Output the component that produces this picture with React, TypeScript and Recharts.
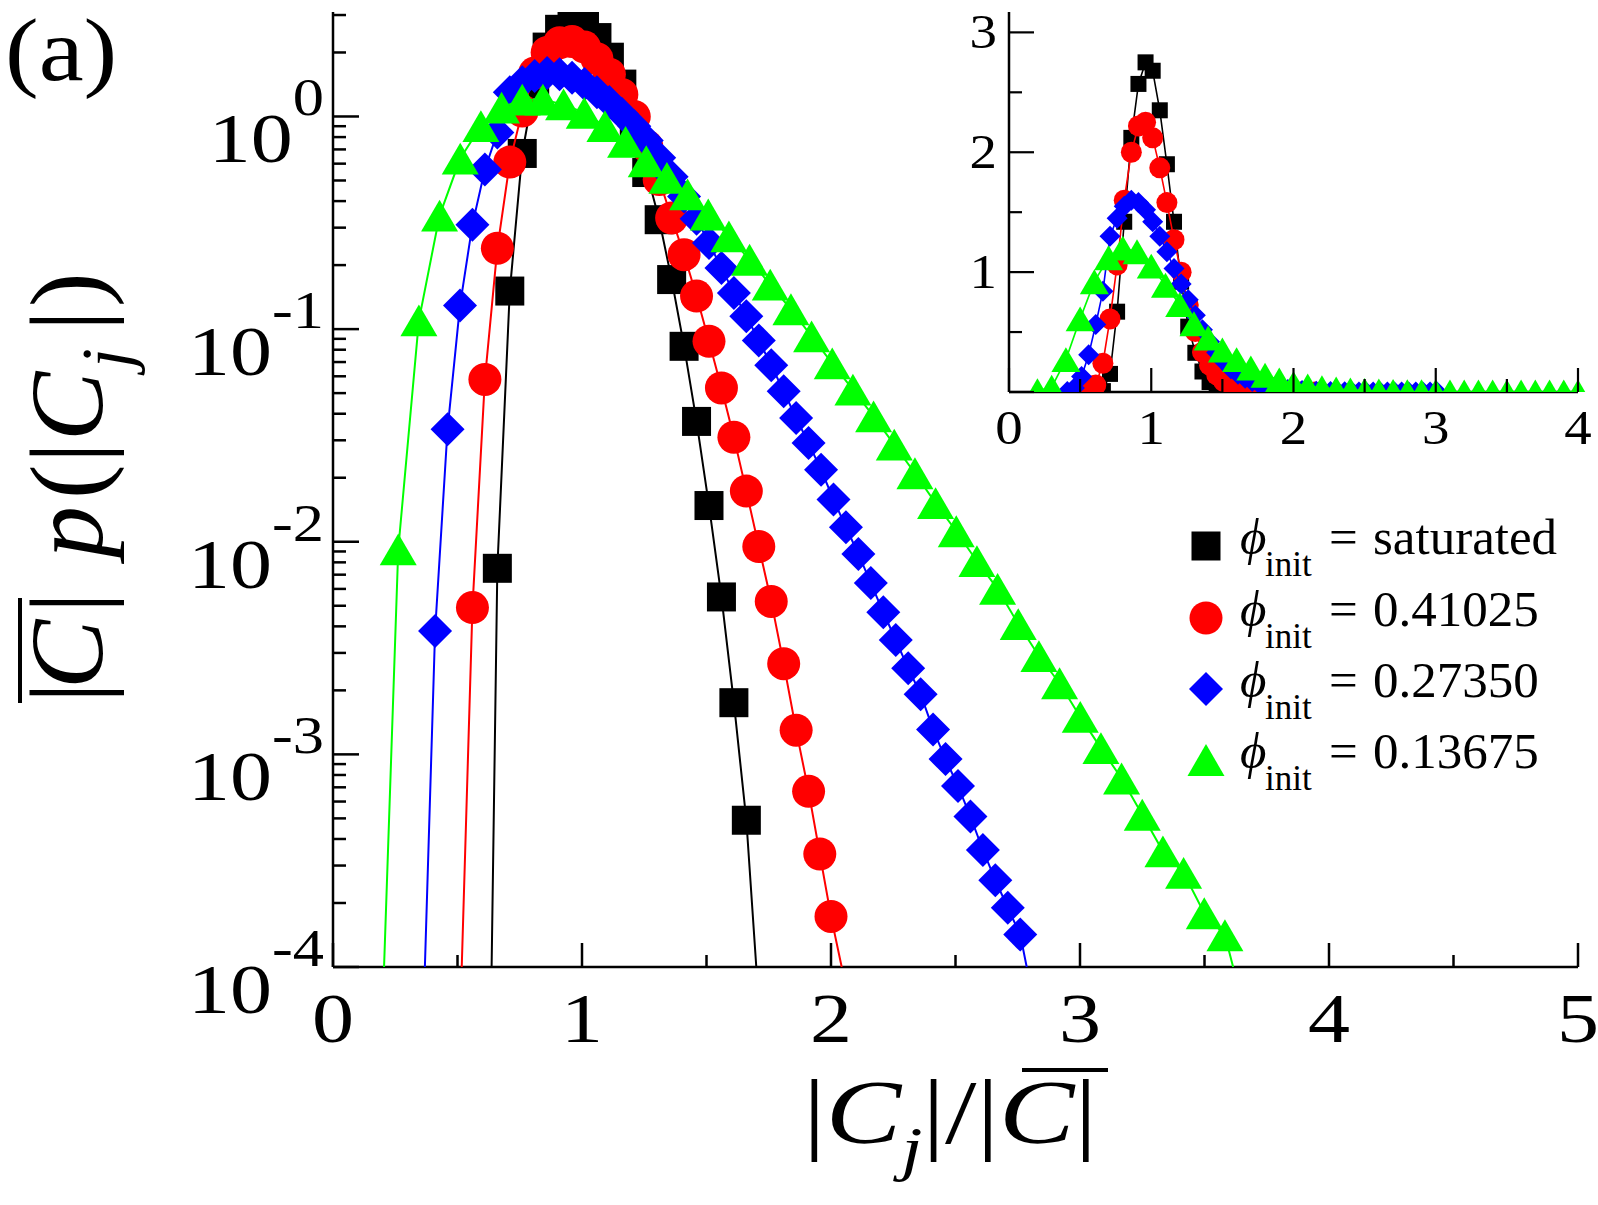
import React from 'react';
import { ComposedChart, Scatter, XAxis, YAxis } from 'recharts';

const FONT = '"Liberation Serif", "Times New Roman", Times, serif';

// x = |C_j| / mean|C| , y = mean|C| p(|C_j|)
const blackX = [0.66, 0.71, 0.76, 0.81, 0.86, 0.91, 0.96, 1.01, 1.06, 1.11, 1.16, 1.21, 1.26, 1.31, 1.36, 1.41, 1.46, 1.51, 1.56, 1.61, 1.66];
const blackY = [0.0075, 0.151, 0.67, 1.42, 2.12, 2.57, 2.75, 2.68, 2.35, 1.9, 1.42, 0.92, 0.545, 0.327, 0.171, 0.083, 0.0368, 0.0148, 0.0055, 0.00175, 0.00049];

const redX = [0.56, 0.61, 0.66, 0.71, 0.76, 0.81, 0.86, 0.91, 0.96, 1.01, 1.06, 1.11, 1.16, 1.21, 1.26, 1.31, 1.36, 1.41, 1.46, 1.51, 1.56, 1.61, 1.66, 1.71, 1.76, 1.81, 1.86, 1.91, 1.955, 2.0];
const redY = [0.0049, 0.058, 0.24, 0.61, 1.06, 1.6, 2.0, 2.22, 2.25, 2.12, 1.87, 1.58, 1.27, 1.0, 0.725, 0.505, 0.333, 0.224, 0.143, 0.0877, 0.0529, 0.031, 0.0173, 0.0095, 0.00524, 0.00267, 0.0013, 0.00067, 0.00034, 0.000173];

const blueX = [0.41, 0.46, 0.51, 0.56, 0.61, 0.66, 0.71, 0.76, 0.81, 0.86, 0.91, 0.96, 1.01, 1.06, 1.11, 1.16, 1.21, 1.26, 1.31, 1.36, 1.41, 1.46, 1.51, 1.56, 1.61, 1.66, 1.71, 1.76, 1.81, 1.86, 1.91, 1.96, 2.01, 2.06, 2.11, 2.16, 2.21, 2.26, 2.31, 2.36, 2.41, 2.46, 2.51, 2.56, 2.61, 2.66, 2.71, 2.76];
const blueY = [0.0038, 0.0338, 0.129, 0.31, 0.563, 0.84, 1.3, 1.45, 1.55, 1.6, 1.58, 1.52, 1.42, 1.3, 1.17, 1.03, 0.9, 0.77, 0.64, 0.52, 0.42, 0.33, 0.254, 0.194, 0.148, 0.115, 0.0885, 0.0676, 0.051, 0.0382, 0.0291, 0.0218, 0.0158, 0.0117, 0.00876, 0.00639, 0.00466, 0.00345, 0.00254, 0.00192, 0.00131, 0.00095, 0.00071, 0.00051, 0.000355, 0.000256, 0.00019, 0.000142];

const greenX = [0.262, 0.345, 0.428, 0.511, 0.594, 0.677, 0.76, 0.843, 0.926, 1.009, 1.092, 1.175, 1.258, 1.341, 1.424, 1.507, 1.59, 1.673, 1.756, 1.839, 1.922, 2.005, 2.088, 2.171, 2.254, 2.337, 2.42, 2.503, 2.586, 2.669, 2.752, 2.835, 2.918, 3.001, 3.084, 3.167, 3.25, 3.333, 3.416, 3.499, 3.582];
const greenY = [0.0092, 0.11, 0.342, 0.634, 0.9, 1.1, 1.2, 1.2, 1.14, 1.04, 0.9, 0.76, 0.616, 0.514, 0.43, 0.346, 0.273, 0.212, 0.162, 0.124, 0.0925, 0.069, 0.0519, 0.0389, 0.0286, 0.021, 0.0152, 0.0112, 0.0081, 0.006, 0.0041, 0.0029, 0.00216, 0.0015, 0.00107, 0.00077, 0.00052, 0.00035, 0.000277, 0.000179, 0.000141];

// where each fitted line leaves the bottom of the log panel (left, right)
const blackEdges = [0.637, 1.7];
const redEdges = [0.517, 2.043];
const blueEdges = [0.369, 2.786];
const greenEdges = [0.205, 3.615];

// bins that sit at ~0 in the linear inset
const blackZeroX: number[] = [];
const redZeroX = [0.51, 2.05, 2.1, 2.15];
const blueZeroX = [2.81, 2.86, 2.91, 2.96, 3.01];

// the inset's green set is binned more coarsely
const greenInsetX = [0.2, 0.3, 0.4, 0.5, 0.6, 0.7, 0.8, 0.9, 1.0, 1.1, 1.2, 1.3, 1.4, 1.5, 1.6, 1.7, 1.8, 1.9, 2.0, 2.1, 2.2, 2.3, 2.4, 2.5, 2.6, 2.7, 2.8, 2.9, 3.0, 3.1, 3.2, 3.3, 3.4, 3.5, 3.6, 3.7, 3.8, 3.9, 4.0];
const greenInsetY = [0.01, 0.04, 0.27, 0.61, 0.92, 1.12, 1.2, 1.17, 1.05, 0.89, 0.73, 0.57, 0.45, 0.35, 0.27, 0.2, 0.14, 0.1, 0.07, 0.05, 0.035, 0.025, 0.017, 0.012, 0.008, 0.005, 0.003, 0.002, 0.0015, 0.001, 0.0006, 0.0004, 0.0003, 0.0002, 0.0001, 0, 0, 0, 0];

const seriesNames = ['saturated', '0.41025', '0.27350', '0.13675'];
const seriesColors = ['#000000', '#ff0000', '#0000ff', '#00ff00'];

const MAIN_Y_MIN = 1e-4;
const MAIN_Y_MAX = 3.1;
const mainXTicks = [0, 0.5, 1, 1.5, 2, 2.5, 3, 3.5, 4, 4.5, 5];
const mainYExponents = [-4, -3, -2, -1, 0];
const mainYTicks = mainYExponents
  .flatMap((e) => [1, 2, 3, 4, 5, 6, 7, 8, 9].map((m) => m * Math.pow(10, e)))
  .filter((v) => v <= MAIN_Y_MAX);

const insetXTicks = [0, 0.5, 1, 1.5, 2, 2.5, 3, 3.5, 4];
const insetYTicks = [0, 0.5, 1, 1.5, 2, 2.5, 3];
const insetYLabels = [1, 2, 3];

type Kind = 'square' | 'circle' | 'diamond' | 'triangle';
type Pt = { x: number; y: number };

const points = (xs: number[], ys: number[]): Pt[] => xs.map((x, i) => ({ x, y: ys[i] }));
const withZeros = (pts: Pt[], zeros: number[]) =>
  [...pts, ...zeros.map((x) => ({ x, y: 0 }))].sort((a, b) => a.x - b.x);

const series = [
  { name: seriesNames[0], color: seriesColors[0], kind: 'square' as Kind, main: points(blackX, blackY), edges: blackEdges, inset: withZeros(points(blackX, blackY), blackZeroX) },
  { name: seriesNames[1], color: seriesColors[1], kind: 'circle' as Kind, main: points(redX, redY), edges: redEdges, inset: withZeros(points(redX, redY), redZeroX) },
  { name: seriesNames[2], color: seriesColors[2], kind: 'diamond' as Kind, main: points(blueX, blueY), edges: blueEdges, inset: withZeros(points(blueX, blueY), blueZeroX) },
  { name: seriesNames[3], color: seriesColors[3], kind: 'triangle' as Kind, main: points(greenX, greenY), edges: greenEdges, inset: points(greenInsetX, greenInsetY) },
];

const mainLine = (s: typeof series[number]) => [
  { x: s.edges[0], y: MAIN_Y_MIN },
  ...s.main,
  { x: s.edges[1], y: MAIN_Y_MIN },
];

const MAIN_SIZE: Record<Kind, number> = { square: 29, circle: 33, diamond: 34, triangle: 37 };
const INSET_SIZE: Record<Kind, number> = { square: 16, circle: 21, diamond: 21, triangle: 29 };

function Marker({ kind, cx, cy, size, color }: { kind: Kind; cx: number; cy: number; size: number; color: string }) {
  const h = size / 2;
  if (kind === 'square') return <rect x={cx - h} y={cy - h} width={size} height={size} fill={color} />;
  if (kind === 'circle') return <circle cx={cx} cy={cy} r={h} fill={color} />;
  if (kind === 'diamond')
    return <polygon points={`${cx},${cy - h} ${cx + h},${cy} ${cx},${cy + h} ${cx - h},${cy}`} fill={color} />;
  const th = size * 0.43;
  return <polygon points={`${cx},${cy - th} ${cx + h},${cy + th} ${cx - h},${cy + th}`} fill={color} />;
}

const shapeFor = (kind: Kind, color: string, size: number) => (p: any) =>
  p.cx == null || p.cy == null ? <g /> : <Marker kind={kind} cx={p.cx} cy={p.cy} size={size} color={color} />;

const noShape = () => <g />;

const AXIS = { stroke: '#000', strokeWidth: 2.5 };

function MainYTick({ x, y, payload }: any) {
  const v = payload.value;
  const e = Math.log10(v);
  const major = Math.abs(e - Math.round(e)) < 1e-6;
  return (
    <g>
      <line x1={x} y1={y} x2={x + (major ? 26 : 13)} y2={y} stroke="#000" strokeWidth={2.5} />
      {major && (
        <g transform={`translate(${x - 9},${y + 46}) scale(1.2,1)`}>
          <text textAnchor="end" fontFamily={FONT} fontSize={70} fill="#000">
            10
            <tspan fontSize={52} dy={-47}>
              {String(Math.round(e))}
            </tspan>
          </text>
        </g>
      )}
    </g>
  );
}

function MainXTick({ x, y, payload }: any) {
  const v = payload.value;
  const major = Number.isInteger(v);
  return (
    <g>
      <line x1={x} y1={y} x2={x} y2={y - (major ? 24 : 12)} stroke="#000" strokeWidth={2.5} />
      {major && (
        <g transform={`translate(${x},${y + 75}) scale(1.2,1)`}>
          <text textAnchor="middle" fontFamily={FONT} fontSize={70} fill="#000">
            {v}
          </text>
        </g>
      )}
    </g>
  );
}

function InsetYTick({ x, y, payload }: any) {
  const v = payload.value;
  const major = Number.isInteger(v);
  return (
    <g>
      <line x1={x} y1={y} x2={x + (major ? 25 : 13)} y2={y} stroke="#000" strokeWidth={2.2} />
      {insetYLabels.includes(v) && (
        <g transform={`translate(${x - 12},${y + 16}) scale(1.12,1)`}>
          <text textAnchor="end" fontFamily={FONT} fontSize={49} fill="#000">
            {v}
          </text>
        </g>
      )}
    </g>
  );
}

function InsetXTick({ x, y, payload }: any) {
  const v = payload.value;
  const major = Number.isInteger(v);
  return (
    <g>
      <line x1={x} y1={y} x2={x} y2={y - (major ? 24 : 13)} stroke="#000" strokeWidth={2.2} />
      {major && (
        <g transform={`translate(${x},${y + 52}) scale(1.12,1)`}>
          <text textAnchor="middle" fontFamily={FONT} fontSize={49} fill="#000">
            {v}
          </text>
        </g>
      )}
    </g>
  );
}

function MainChart() {
  return (
    <ComposedChart width={1598} height={1205} margin={{ top: 12, right: 20, left: 233, bottom: 178 }}>
      <XAxis
        type="number"
        dataKey="x"
        domain={[0, 5]}
        ticks={mainXTicks}
        interval={0}
        height={60}
        allowDataOverflow
        axisLine={AXIS}
        tickLine={false}
        tickSize={0}
        tickMargin={0}
        tick={MainXTick}
      />
      <XAxis xAxisId="top" orientation="top" type="number" domain={[0, 5]} height={0} tick={false} tickLine={false} axisLine={AXIS} />
      <YAxis
        type="number"
        dataKey="y"
        scale="log"
        domain={[MAIN_Y_MIN, MAIN_Y_MAX]}
        ticks={mainYTicks}
        interval={0}
        width={100}
        allowDataOverflow
        axisLine={AXIS}
        tickLine={false}
        tickSize={0}
        tickMargin={0}
        tick={MainYTick}
      />
      <YAxis yAxisId="right" orientation="right" type="number" domain={[0, 1]} width={0} tick={false} tickLine={false} axisLine={AXIS} />
      {series.flatMap((s) => [
        <Scatter
          key={s.name + '-line'}
          data={mainLine(s)}
          line={{ stroke: s.color, strokeWidth: 2 }}
          shape={noShape}
          isAnimationActive={false}
        />,
        <Scatter
          key={s.name + '-pts'}
          data={s.main}
          shape={shapeFor(s.kind, s.color, MAIN_SIZE[s.kind])}
          isAnimationActive={false}
        />,
      ])}
    </ComposedChart>
  );
}

function InsetChart() {
  return (
    <ComposedChart width={698} height={470} margin={{ top: 12, right: 20, left: 49, bottom: 28 }}>
      <XAxis
        type="number"
        dataKey="x"
        domain={[0, 4]}
        ticks={insetXTicks}
        interval={0}
        height={50}
        axisLine={AXIS}
        tickLine={false}
        tickSize={0}
        tickMargin={0}
        tick={InsetXTick}
      />
      <YAxis
        type="number"
        dataKey="y"
        domain={[0, 3.17]}
        ticks={insetYTicks}
        interval={0}
        width={60}
        allowDataOverflow
        axisLine={AXIS}
        tickLine={false}
        tickSize={0}
        tickMargin={0}
        tick={InsetYTick}
      />
      {series.map((s) => (
        <Scatter
          key={s.name + '-inset'}
          data={s.inset}
          line={{ stroke: s.color, strokeWidth: 1.6 }}
          shape={shapeFor(s.kind, s.color, INSET_SIZE[s.kind])}
          isAnimationActive={false}
        />
      ))}
    </ComposedChart>
  );
}

function Overlay() {
  const rowY = [554, 626, 697, 768];
  return (
    <svg width={1598} height={1205} style={{ position: 'absolute', left: 0, top: 0, pointerEvents: 'none' }}>
      <g transform="translate(5,80) scale(1.15,1)">
        <text fontFamily={FONT} fontSize={88} fill="#000">
          (a)
        </text>
      </g>

      {/* x title: |C_j| / |C| with bar */}
      <g transform="translate(803,1143) scale(1.23,1)">
        <text fontFamily={FONT} fontSize={92} fill="#000">
          |<tspan fontStyle="italic">C</tspan>
          <tspan fontStyle="italic" fontSize={62} dy={26}>
            j
          </tspan>
          <tspan dy={-26}>|/|</tspan>
          <tspan fontStyle="italic">C</tspan>|
        </text>
      </g>
      <line x1={1022} y1={1070} x2={1108} y2={1070} stroke="#000" strokeWidth={4} />

      {/* y title: |C| p(|C_j|) */}
      <g transform="translate(102,703) rotate(-90)">
        <text fontFamily={FONT} fontSize={104} fill="#000" y={0}>
          <tspan x={0}>|</tspan>
          <tspan x={14} fontStyle="italic">C</tspan>
          <tspan x={90}>|</tspan>
          <tspan x={145} fontStyle="italic">p</tspan>
          <tspan x={204}>(</tspan>
          <tspan x={240}>|</tspan>
          <tspan x={262} fontStyle="italic">C</tspan>
          <tspan x={335} fontStyle="italic" fontSize={70} dy={28}>
            j
          </tspan>
          <tspan x={372} dy={-28}>|</tspan>
          <tspan x={396}>)</tspan>
        </text>
      </g>
      <line x1={20} y1={598} x2={20} y2={703} stroke="#000" strokeWidth={4} />

      {series.map((s, i) => (
        <g key={s.name}>
          <Marker kind={s.kind} cx={1206} cy={rowY[i] - 8} size={MAIN_SIZE[s.kind]} color={s.color} />
          <text fontFamily={FONT} fontSize={51} fill="#000" y={rowY[i]}>
            <tspan x={1240} fontStyle="italic">
              ϕ
            </tspan>
            <tspan x={1265} dy={22} fontSize={35}>
              init
            </tspan>
            <tspan x={1329} dy={-22}>
              =
            </tspan>
            <tspan x={1373}>{s.name}</tspan>
          </text>
        </g>
      ))}
    </svg>
  );
}

export default function App() {
  return (
    <div style={{ position: 'absolute', left: 0, top: 0, width: 1598, height: 1205, background: '#fff' }}>
      <div style={{ position: 'absolute', left: 0, top: 0 }}>
        <MainChart />
      </div>
      <div style={{ position: 'absolute', left: 900, top: 0 }}>
        <InsetChart />
      </div>
      <Overlay />
    </div>
  );
}
